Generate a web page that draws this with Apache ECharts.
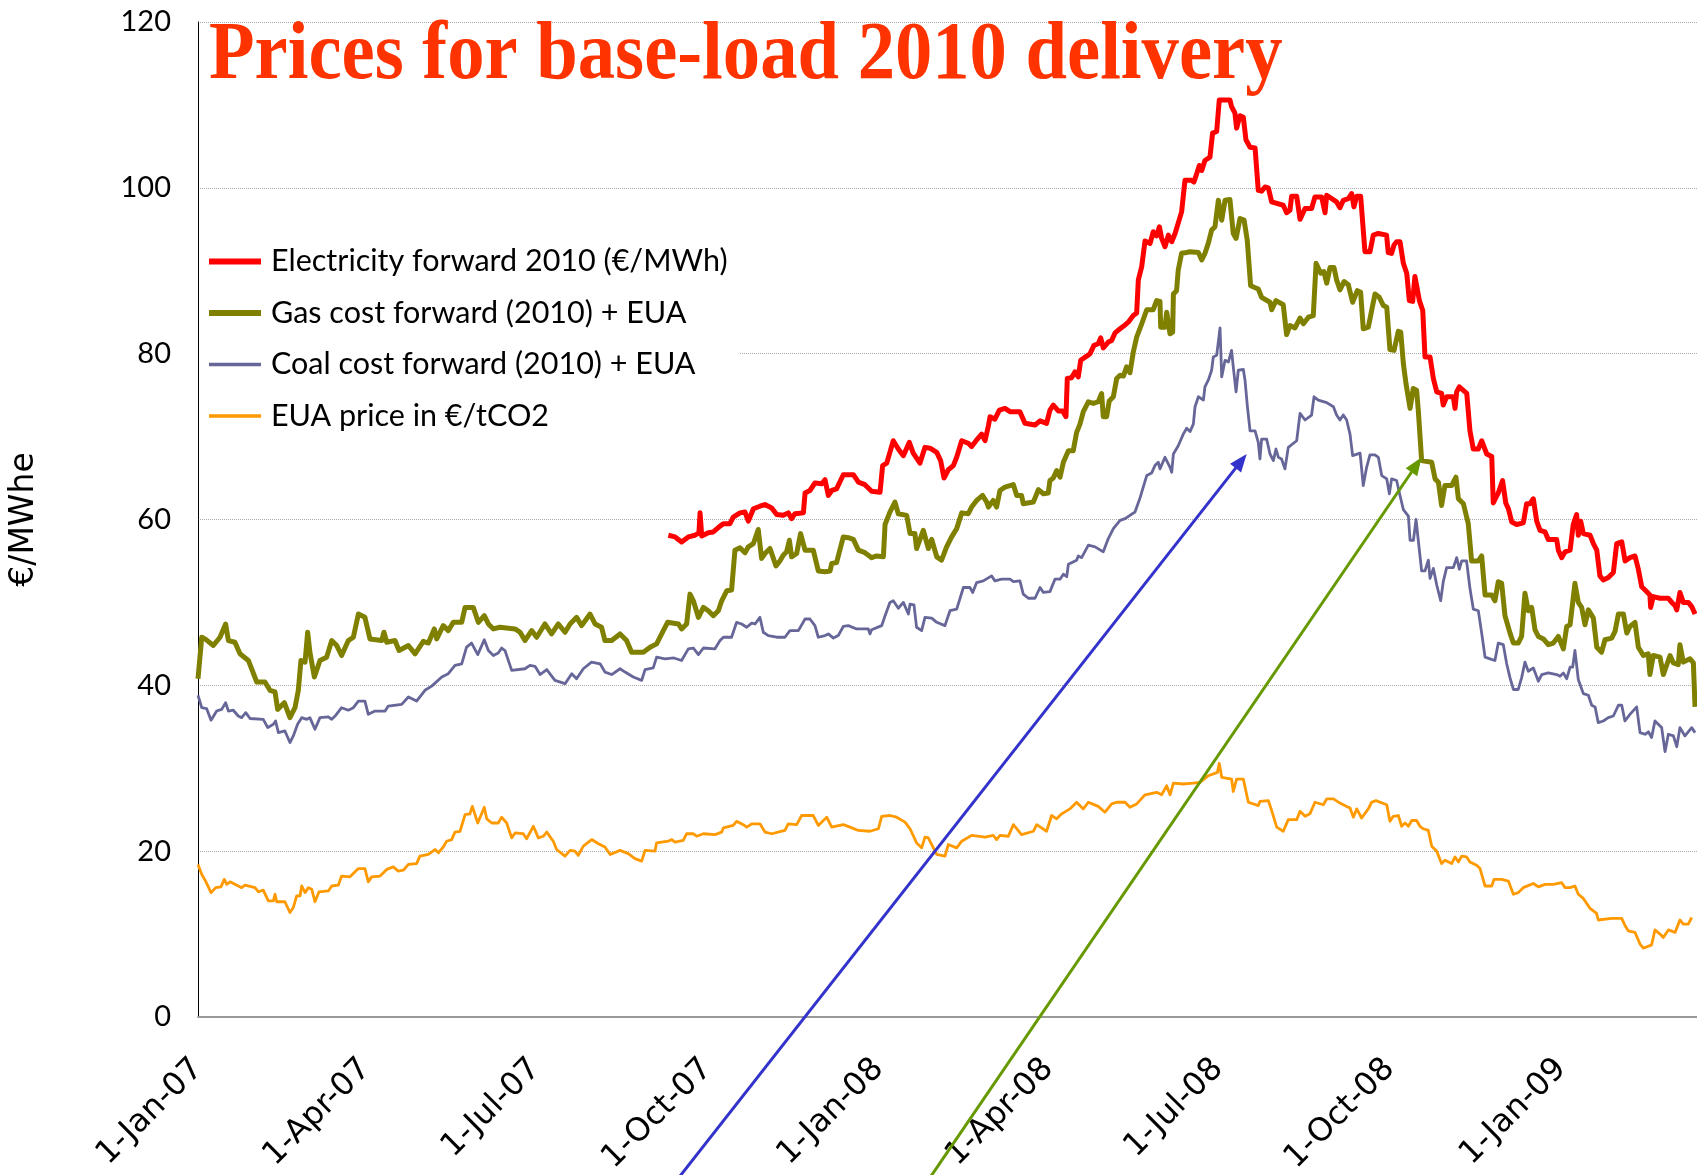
<!DOCTYPE html>
<html><head><meta charset="utf-8">
<script src="https://cdn.jsdelivr.net/npm/echarts@6/dist/echarts.min.js"></script>
<style>html,body{margin:0;padding:0;background:#fff}#c{width:1697px;height:1175px}</style>
</head><body><div id="c"></div>
<script>
// x values are days since 1-Jan-2007
const tickDays = [0, 90, 181, 273, 365, 456, 547, 639, 731];
const tickLabels = ['1-Jan-07','1-Apr-07','1-Jul-07','1-Oct-07','1-Jan-08','1-Apr-08','1-Jul-08','1-Oct-08','1-Jan-09'];
const seriesNames = ['Electricity forward 2010 (€/MWh)','Gas cost forward (2010) + EUA','Coal cost forward (2010) + EUA','EUA price in €/tCO2'];

const elecPoints = [[252.2,58.1],[255.8,57.9],[259.3,57.3],[262.9,57.9],[266.5,58.1],[268.6,58.4],[269.2,60.8],[270.1,58],[273.6,58.4],[276.3,58.5],[279.9,59.2],[281.7,59.5],[285.2,59.5],[287,60.3],[290.6,60.8],[293.3,60.9],[295.1,59.8],[297.8,61.3],[301.3,61.6],[304,61.8],[307.6,61.4],[310.3,60.6],[313.8,60.5],[316.5,60.8],[318.3,60.1],[320.1,60.7],[324.6,60.8],[325.5,63.2],[328.1,63.5],[330.8,64.4],[334.4,64.3],[336.2,64.8],[338,62.9],[339.8,63.5],[342.4,63.7],[346,65.4],[351.4,65.4],[354.1,64.5],[357.6,64.2],[361.2,63.4],[365.7,63.3],[367.1,66.5],[369.3,66.8],[372.8,69.5],[375.5,68.5],[378.2,67.7],[381.4,69.3],[383.5,68],[387.1,66.8],[389.8,68.7],[392.5,68.6],[396.1,68.1],[398.2,67.1],[400,65],[402.3,66],[405,66.5],[406.8,67.5],[409.5,69.5],[413,69.2],[414.8,68.8],[417.2,69.5],[420.2,70.3],[422,69.5],[423.8,71.3],[424.7,72.4],[427.3,72.1],[429.7,73.2],[432.7,73.4],[435.4,73],[440.7,73],[443.4,71.6],[448.8,71.4],[451.5,71.9],[455,71.6],[456.8,73.2],[458.6,73.8],[461.3,73.1],[463.6,73.1],[465.4,72.4],[466.1,77],[468.4,77.1],[470.2,77.8],[472,77.2],[473.3,79.2],[476.5,79.7],[478.3,80],[480.4,81],[482.7,81.2],[484,81.9],[485.4,80.7],[488.1,81.4],[489.9,81.6],[491.7,82.5],[494.4,83],[496.2,83.3],[498.8,83.8],[501.5,84.6],[503.3,84.9],[504.2,88.9],[506,90.5],[507.8,93.6],[510.5,93.3],[512.2,94.7],[514,94.2],[515.5,95.3],[516.7,93.9],[518.5,92.9],[520.3,94.3],[522.1,93.5],[523.9,94.5],[527.4,97.1],[529.2,100.9],[532.8,100.9],[534,100.7],[535.5,101.7],[536.9,102.7],[538.2,102.1],[539.9,103.3],[542.6,103.7],[544,106.6],[546.2,106.8],[547.6,110.6],[553.3,110.6],[554.2,109.8],[556,109],[556.9,107.2],[558.7,108.7],[560.5,108.5],[561.9,105.8],[564.1,104.9],[566.8,104.8],[568.5,99.7],[570.3,99.6],[572.1,100.1],[573.9,100],[575.7,98.3],[581.9,97.9],[583.7,97],[585.5,97.3],[586.4,99],[589.1,99],[590.9,96.2],[593.6,97.5],[597.1,97.5],[598.9,98.9],[602.5,98.9],[604.3,97],[605.2,99.1],[610.5,98.3],[612.3,97.6],[614.1,98.5],[616.8,98.7],[618.6,99.3],[619.8,97.7],[621.3,99],[623.4,99],[625.7,92.3],[628.4,92.3],[630.2,94.3],[632.9,94.5],[637.3,94.3],[638.2,92.2],[640,92.1],[641.3,93.1],[642.7,93.5],[644.5,93.5],[646.3,90.9],[648.1,89.7],[649.5,86.4],[651.3,86.3],[652.5,89.3],[653.4,89.3],[654.9,86.4],[656.7,85.2],[657.9,79.6],[660.6,79.6],[662.4,77],[664.2,75.4],[666.8,75.2],[667.7,73.8],[669.5,74.8],[673.1,74.8],[674,73.4],[674.9,75.4],[676.3,76],[680.3,75.2],[682,70.7],[683.8,68.5],[686.5,68.5],[688.3,69.5],[691,67.9],[693.7,67.6],[694.5,62],[697.2,63.2],[699.5,64.7],[701.2,62],[702.6,61.3],[704.4,59.7],[707.1,59.4],[710.6,59.6],[712.4,61.9],[714.2,61.9],[716,62.5],[717.8,59.8],[719.6,58.7],[722.3,58.5],[724,57.6],[728.5,57.6],[729.4,56.3],[731.2,55.4],[733,56.1],[735.7,56.3],[737.4,59.4],[739.2,60.6],[740.1,58.1],[741.4,59.8],[742.8,58.3],[746.4,58.1],[748.2,57.1],[750,56.3],[751.7,53.2],[753.5,52.7],[756.2,53],[758.9,53.6],[760.7,57.1],[763.4,57.3],[765.2,55],[767.8,55.4],[770.5,55.6],[772.3,54],[774.1,51.9],[775.9,51.5],[778.5,50.9],[778.9,49.4],[780.3,50.7],[783.9,50.5],[788.4,50.5],[790.2,50],[792,49.6],[792.9,49.1],[794.6,51.2],[796.4,50],[799.1,50],[800.9,49.5],[802.7,48.6]];

const gasPoints = [[0,40.8],[2,45.8],[3.8,45.6],[8.2,44.8],[11.8,45.8],[14.8,47.4],[16.3,45.4],[19.8,45.2],[22.5,43.8],[27,43],[31.5,40.4],[35.9,40.4],[38.6,39.4],[41.3,39.2],[42.7,37.1],[46.3,37.9],[49.3,36.1],[52,37.3],[53.8,39.4],[55.2,43],[57.4,42.8],[58.8,46.4],[60,44],[62.4,41],[65.4,43],[69,43.4],[71.7,45.4],[74.4,44.8],[77,43.6],[80.6,45.4],[83.3,45.8],[86,48.6],[89.5,48.2],[92.2,45.6],[98.5,45.4],[99.7,46.4],[101.2,45.2],[105.6,45.4],[107.8,44.2],[112.8,44.8],[116.4,43.8],[120.8,45.3],[123.5,45.1],[126.7,46.8],[128,45.6],[131.5,47.2],[134.2,46.6],[136.9,47.6],[141.4,47.6],[143.2,49.4],[147.6,49.4],[150.3,47.6],[153.5,48.4],[155.7,47.4],[158.4,46.8],[161.9,47],[170,46.8],[172.7,46.4],[175.3,45.4],[178.9,46.6],[181.6,45.8],[186,47.4],[189.6,46.2],[193.2,47.4],[196.8,46.4],[199.5,47.4],[203,48.2],[205.7,47.2],[210.2,48.6],[212.9,47.4],[216.4,47],[218.2,45.4],[221.8,45.4],[226.3,46.2],[229.8,45.4],[232.5,44],[238.8,44],[242.4,44.6],[245.9,45],[249.5,46.6],[251.8,47.6],[257.6,47.4],[259.3,46.8],[262,47.4],[263.8,51],[265.6,50.2],[268.3,48.2],[271,49.4],[273.6,49],[276.3,48.4],[279,49],[280.8,50.2],[283.5,51.4],[286.1,51.5],[287.9,56.3],[290.6,56.6],[293.3,56],[295.1,56.7],[297.8,57.1],[300.4,58.8],[302.2,55.3],[304,55.9],[306.7,56.5],[309.9,54.4],[312,55],[313.8,55.7],[315.6,56.1],[317.1,57.5],[318.3,55.5],[321,55.9],[323.1,58.3],[325.5,56.3],[329.9,56.3],[332.6,53.8],[336.2,53.7],[338.9,53.8],[339.8,54.7],[342.4,54.8],[346,57.9],[348.7,57.8],[351.4,57.6],[354.1,56.3],[357.6,56],[361.2,55.4],[363.9,55.6],[367.5,55.5],[368.4,59.4],[371,60.9],[373.7,62.1],[375.5,60.7],[380,60.5],[381.8,58.3],[384.4,58.3],[385.3,56.5],[388.9,58.7],[391.6,56.5],[393.4,57.6],[396.1,55.5],[398.7,55.1],[401.4,56.7],[404.1,57.9],[406.8,58.9],[409.5,60.8],[413,60.7],[414.8,61.5],[417.5,62.3],[420.7,62.9],[422.9,62.1],[423.8,61.5],[426.4,62.3],[428.2,61.5],[430,63.5],[432.7,63.9],[437.2,64.2],[439,62.9],[441.6,62.9],[442.5,61.9],[447.9,62.1],[450.6,63.6],[453.3,63.1],[455.9,63.2],[456.8,64.7],[458.6,65],[460.4,65.9],[462.2,65.1],[464,66.9],[466.7,68.3],[469.3,68.3],[471.1,70.5],[472.9,71.5],[474.7,73],[477.4,74.2],[480.1,74],[482.7,74.2],[484.5,75.2],[485.4,72.4],[487.2,72.4],[488.6,74.3],[490.8,74.8],[492.6,77],[494.4,77.4],[496.2,77.3],[497.9,78.4],[499.7,77.7],[501.5,80.2],[503.3,82],[506,83.6],[508.7,85.3],[512.2,85.3],[514,86.4],[515.8,86.3],[516.2,83.2],[518.5,83.2],[519.4,85],[521.2,82.4],[522.6,82.6],[523,87.2],[524.7,87.6],[525.6,90.1],[527.4,92.1],[530.1,92.2],[531.9,92.3],[536.4,92.2],[538.2,91.3],[539.9,92.1],[541.7,93.3],[543.5,94.9],[545.3,95.3],[547.1,98.5],[548.9,96.1],[550.7,98.5],[553.3,98.6],[555.1,94.5],[556.6,93.9],[558.7,96.3],[560.9,96.1],[562.6,93.7],[564.4,88.2],[568.5,87.8],[570.3,86.8],[574.8,86.2],[575.7,85.3],[578,86.4],[581.9,85.9],[583.7,82.3],[585.5,83.4],[588.2,83.1],[590.9,84.3],[592.7,83.6],[595.4,84.4],[598,84.6],[599.5,90.9],[602,89.7],[603.7,89.9],[605.2,88.5],[607,90.4],[609.1,90.4],[610.5,88.9],[612.3,87.7],[614.5,88.7],[616.8,88.3],[619.1,86.2],[621.6,87.6],[623.4,87.4],[624.8,83],[627.5,83.2],[629.3,85.2],[631.1,87.2],[633.4,86.8],[635.6,85.8],[637.4,85.6],[639.1,80.5],[641.3,80.4],[643.6,82.7],[644.9,82.6],[646.3,78.8],[647.7,76.4],[649.9,73.4],[651.6,75.8],[653.4,75.6],[654.3,73.2],[656.1,67.1],[661.5,66.9],[663.3,64.9],[665.1,64.5],[666.8,61.7],[668.6,64.1],[672.2,64.1],[674.5,65.1],[675.8,62.5],[678.5,61.9],[681.1,59.5],[682.9,55],[686.5,55],[688.3,55.6],[690.1,50.9],[693.7,50.9],[695.4,50.2],[697.2,52.5],[699,52.3],[700.8,48.4],[703.5,46.3],[705.3,45.1],[707.9,45.1],[709.7,45.9],[711.5,51.1],[713.3,49],[715.1,49.4],[716.9,46.7],[718.7,45.9],[721.4,45.6],[724,44.9],[726.7,45.1],[729.4,45.9],[732.1,44.4],[733.9,47.1],[735.7,47.3],[738.3,52.3],[740.1,50],[741.9,49.4],[743.7,47.3],[745.5,49.1],[748.2,48.1],[750,44.6],[752.6,44],[754.4,45.5],[758,45.7],[759.8,46.5],[761.6,48.6],[764.3,48.6],[766.1,46.3],[767.8,47.1],[770.5,47.6],[772.3,44.6],[775,43.6],[777.6,43.8],[778.5,41.3],[780.3,43.6],[783.9,43.4],[785.7,41.3],[789.3,43.6],[791.1,42.7],[793.7,42.5],[794.6,44.9],[796.4,42.8],[800,43.2],[801.8,42.7],[802.7,37.4]];

const coalPoints = [[0,38.8],[2,37.3],[4.6,37.2],[7,35.8],[10,36.9],[12.7,37.1],[14.8,37.9],[16.3,36.9],[18.9,37],[21.6,36.3],[23.4,36.1],[25.6,36.7],[27.9,36],[35,35.9],[37.4,34.9],[40.4,35.3],[41.6,35.7],[43.1,34.3],[46.6,34.5],[49.3,33.1],[51.1,33.9],[53.4,35.3],[55.6,36.1],[58.3,35.9],[60,36.1],[62.7,34.7],[65.4,36.1],[69.9,36.2],[71.7,35.9],[73.5,36.3],[77,37.3],[80.6,37],[83.3,37.3],[86,38.1],[89.5,38.1],[91.3,36.5],[94.9,36.9],[100.3,36.9],[102,37.5],[109.2,37.7],[112.8,38.6],[117.2,38.1],[121.7,39.4],[125.3,39.9],[130.7,41],[134.2,41.4],[137.8,42.4],[141.4,42.6],[144,44.6],[146.7,45.1],[147.6,45.3],[150,43.7],[153.5,45.5],[155.7,44.2],[158.4,43.6],[161,43.9],[162.8,44.5],[164.6,44.2],[168.2,41.8],[175.3,42],[178,42.4],[180.7,42.3],[183.4,41.3],[187,41.9],[191.4,40.6],[196.8,40.2],[200.4,41.4],[203,40.8],[206.6,42],[211,42.8],[215.6,42.6],[218.2,41.6],[221.8,41.3],[226.3,42],[229,41.6],[233.4,41],[237.9,40.6],[239.7,41.9],[244.1,42.1],[245.9,43.4],[250.4,43.2],[255.2,43.3],[259.3,43],[262.9,44.4],[265.6,44.5],[268.3,43.7],[271,44.5],[277.2,44.4],[279.9,45.4],[281.7,45.8],[286.1,45.8],[288.8,47.6],[291.5,47.4],[294.2,47],[296.9,47.5],[298.7,47.4],[301.3,48.2],[303.1,46.4],[305.8,46],[310.3,45.8],[314.7,45.8],[317.4,46.6],[321.9,46.6],[325.5,48],[328.1,48],[330.8,47.2],[332.6,45.8],[336.2,46],[338,46.2],[340.7,45.7],[343.3,46],[346,47.1],[348.7,47.2],[353.2,46.8],[359.4,46.8],[360.3,46.2],[361.2,46.7],[366.6,47.2],[368.4,48.4],[371,50],[372.8,50.2],[375.5,49.3],[378.2,50],[380.9,48.6],[381.8,49.8],[383.9,49.7],[385.3,47],[388,46.6],[389.8,48.2],[393.4,48.1],[396.1,47.6],[400.5,47.2],[403.2,49],[406.8,49.2],[410.4,51.8],[413.9,51.8],[415.4,51.2],[417.5,52.4],[421.1,52.6],[425.5,53.2],[427.3,52.6],[430.9,52.8],[435.4,52.8],[437.2,52.5],[440.7,52.6],[442.5,51],[445.2,50.5],[448.8,50.5],[451.5,51.8],[453.3,51.2],[456.8,51.3],[459.5,52.8],[462.2,52.8],[464,53.4],[465.8,53.1],[466.7,54.6],[471.1,55.1],[472,55.6],[473.8,55.4],[477.4,56.9],[481,56.7],[485.4,56.1],[488.1,57.7],[490.8,58.9],[494.4,59.9],[497.1,60.1],[499.7,60.5],[502.4,60.9],[505.1,62.6],[508.7,65.3],[511.3,65.6],[513.1,66.5],[514.9,66.9],[515.8,66.1],[518.5,67.5],[521.2,66.3],[522.1,65.7],[523,67.9],[525.6,68.9],[528.3,70.3],[530.1,71],[531.9,70.6],[533.7,71.5],[534.6,73.6],[536.4,74.8],[539.1,74.4],[539.9,76],[541.7,76.8],[543.5,78],[544.4,79.6],[546.2,79.8],[548,83.1],[548.9,77.2],[550.7,79.2],[552.5,79],[554.2,80.4],[555.1,78.4],[556.6,75.4],[557.8,78],[560.5,78.1],[561.4,76.8],[562.6,73.8],[564.1,70.7],[566.8,70.7],[568.5,69.3],[569.4,67.3],[570.3,69.7],[573,69.7],[574.8,67.9],[576.6,67.1],[578,68.5],[579.3,67.5],[581,67.3],[582.8,66.1],[584.6,68.7],[589.1,69.5],[590.9,72.8],[593.6,72],[597.1,72.6],[598.4,74.8],[600.7,74.4],[605.2,74.1],[608.8,73.6],[610.5,72.6],[612.3,72],[614.1,72.6],[615.9,72],[617.7,70.3],[619.1,67.7],[623.1,68],[624.8,64.1],[626.6,66.3],[628.4,67.8],[631.1,67.8],[632.9,67.5],[634.7,65.3],[637.4,64.9],[638.8,63.1],[640,64.9],[642.7,64.7],[644.5,62.9],[646.3,61.2],[649,60.4],[649.9,57.5],[651.7,57.5],[653.1,60],[654.3,57.5],[656.1,53.8],[657.9,53.8],[659.7,55.1],[660.6,52.9],[662.4,54.1],[664.2,52.1],[666.3,50.2],[667.7,52.5],[669.5,54.2],[673.1,54.2],[674.9,55.4],[676.3,54],[677.6,55],[680.2,55],[682,51.7],[683.8,49.2],[686.5,49],[688.3,46.3],[690.1,43.4],[692.8,43.2],[695.4,43],[697.2,45.1],[699.9,44.9],[701.7,42.6],[703.5,40.9],[705.3,39.5],[707.9,39.5],[709.7,40.9],[711.5,42.8],[713.3,41.7],[716,42.1],[718.7,40.5],[720.5,41.3],[724,41.5],[728.5,41.3],[730.3,41.1],[732.1,41.5],[733.9,40.8],[735.7,42.2],[737.1,42.2],[738.3,44.2],[740.1,40.7],[742.8,39],[745.5,38.8],[747.3,37.6],[749.1,37.4],[750.8,35.5],[753.5,35.7],[756.2,36.1],[758.9,36.3],[761.6,37.6],[763.4,37.6],[765.1,35.7],[767.8,36.5],[771.4,37.4],[773.2,34.3],[775.9,34.1],[777.7,34.4],[779.4,33.7],[781.2,35.7],[784.8,34.9],[786.6,32],[788.4,34.1],[791.1,33.9],[792.9,32.6],[794.6,34.9],[797.3,33.9],[800.9,34.9],[802.7,34.3]];

const euaPoints = [[0,18.4],[2,17.2],[3.8,16.5],[7,15],[9.5,15.6],[12.3,15.7],[14.1,16.6],[15.4,16],[17.2,16.3],[23.4,15.6],[25.2,15.9],[30.6,15.6],[32.4,15.1],[35,15.3],[37.7,14],[40.4,14],[41.3,14.8],[42.2,13.9],[46.6,13.9],[49.3,12.6],[51.1,13.2],[52.9,14.6],[54.7,14.6],[55.6,15.8],[57.4,15],[59.2,15.6],[61,15.4],[62.7,13.9],[64.9,15.1],[69.9,15.2],[71.7,15.8],[75.2,15.9],[77,17],[81.5,16.9],[86,17.9],[89.5,17.9],[91.3,16.3],[93.1,16.9],[97.6,17],[101.2,17.8],[104.7,18.1],[107.4,17.6],[110.1,17.7],[112.8,18.4],[117.2,18.5],[119,19.4],[123.5,19.6],[127.1,20.2],[128.9,19.8],[131.5,20.5],[133.3,21.2],[136,21.4],[137.8,22.3],[140.5,22.4],[143.2,24.4],[145.8,24.5],[147.1,25.4],[150,23.4],[153.5,25.3],[154.8,23.9],[157.5,23.4],[161,23.4],[162.8,24.1],[165.5,23.4],[168.2,21.6],[170,22.2],[174.4,22.1],[176.2,21.5],[179.8,23],[182.5,21.6],[185.2,21.8],[187,22.3],[190.5,21.2],[192.3,20.2],[196.8,19.4],[199.5,20.1],[202.1,20],[203.9,19.5],[206.6,20.6],[211.1,21.4],[214.7,20.9],[218.2,20.5],[221,19.6],[226.3,20.1],[230.7,19.7],[234.3,19.1],[237.9,18.8],[239.7,20.1],[245,20],[245.9,21],[252.2,21.2],[254,21.4],[255.8,21.1],[260.2,21.3],[262,22.1],[265.6,22.1],[267.4,21.8],[271,22.1],[277.2,22],[280.8,22.3],[281.7,22.8],[287,23.1],[288.8,23.6],[292.4,23.2],[294.2,22.9],[296.9,23.3],[301.3,23.3],[304,22.3],[307.6,22.1],[314.7,22.5],[316.5,23.3],[321,23.2],[323.7,24.3],[329.9,24.3],[332.6,23.1],[337.1,24.1],[339.8,22.9],[346,23.2],[349.6,22.9],[354.1,22.5],[360.3,22.4],[364.8,22.7],[366.6,24.2],[371,24.3],[374.6,24.1],[379.1,23.5],[381.8,22.7],[385.3,21],[388,20.4],[389.8,21.7],[391.6,21.6],[393.4,20.8],[396.1,19.6],[400.5,19.4],[402.3,20.8],[406.8,20.4],[409.5,21.2],[414.8,21.9],[422,21.7],[426.4,21.9],[428.2,21.4],[430,21.9],[434.5,21.8],[437.2,23.2],[441.6,22],[447.9,22.4],[449.7,23.2],[455,22.4],[457.7,24.3],[460.4,23.9],[463.1,24.5],[467.5,25.1],[471.1,25.9],[474.7,25.1],[477.4,25.9],[482.7,25.4],[486.3,24.7],[489.9,25.7],[492.6,25.9],[497.1,25.9],[499.7,25.3],[503.3,25.7],[507.8,26.8],[514,27.1],[516.7,26.8],[519.4,27.9],[521.2,26.8],[523,28.2],[528.3,28.1],[533.7,28.2],[537.3,28.3],[541.7,29.1],[546.6,29.5],[547.6,30.6],[548.9,28.9],[554.2,28.7],[555.1,27.2],[556.9,28.7],[560.5,28.7],[562.3,26.8],[563.2,25.9],[568.5,25.5],[569.4,26],[573.9,26.1],[575.7,24.9],[578.4,22.9],[581.9,22.4],[584.6,23.8],[589.1,23.8],[590.9,24.8],[593.6,24.2],[596.2,24.5],[598.9,25.9],[603.4,25.6],[605.2,26.3],[608.8,26.3],[612.3,25.8],[615.9,25.4],[617.7,25.2],[619.5,24.1],[621.3,25.1],[623.9,24],[627.5,25.1],[629.3,25.9],[631.6,26.1],[637.4,25.6],[639.1,23.6],[640.9,24.2],[643.6,24.3],[645.4,23],[647.2,23.4],[649,23],[650.8,23.7],[653.4,23.7],[655.2,23],[657,22.7],[659.7,22.5],[661.5,20.6],[664.2,20],[666.8,18.5],[668.6,18.9],[672.2,18.5],[674,19.3],[675.8,18.7],[677.6,19.4],[680.2,19.3],[682,18.7],[685.6,18.3],[687.4,17.9],[690.1,15.8],[693.7,15.8],[694.9,16.6],[699,16.6],[702.6,16.4],[705.3,14.8],[707.9,15],[710.6,15.6],[716,16.1],[718.7,15.7],[722.3,16],[726.7,16],[731.2,16.2],[733,15.6],[735.7,15.6],[738.3,15.8],[740.1,14.8],[742.8,14.3],[746.4,13.1],[749.9,12.5],[750.8,11.7],[758,11.9],[763.4,11.9],[765.2,11],[766.9,10.4],[770.5,10.2],[773.2,8.8],[775,8.3],[779.4,8.7],[781.2,10.5],[783.9,10],[785.7,9.6],[788.4,10.5],[792,10.2],[794.6,11.7],[796.4,11.2],[799.1,11.2],[800.9,12]];

// annotation arrows, in data coordinates (day, value)
const arrowStarts = [[258.4, -19.2], [393, -19.2]];
const arrowEnds = [[562.3, 67.9], [656.1, 67.5]];

const titleText = 'Prices for base-load 2010 delivery';
const yAxisName = '€/MWhe';

const colors = ['#FF0000', '#808000', '#666699', '#FF9900'];
const widths = [5, 5, 2.8, 2.8];
const legendWidths = [6, 6, 3.5, 3.5];
const arrowColors = ['#3333CC', '#669900'];

const chart = echarts.init(document.getElementById('c'), null, {renderer: 'canvas'});
const allPoints = [elecPoints, gasPoints, coalPoints, euaPoints];

chart.setOption({
  animation: false,
  backgroundColor: '#fff',
  grid: {left: 198, right: 0, top: 22, bottom: 158, containLabel: false, outerBoundsMode: 'none'},
  legend: {
    orient: 'vertical', left: 199, top: 238,
    backgroundColor: '#fff', padding: [8, 12, 8, 7],
    itemWidth: 52, itemHeight: 30, itemGap: 20.5,
    itemStyle: {color: 'rgba(0,0,0,0)', borderWidth: 0, opacity: 0},
    textStyle: {fontFamily: 'Lato', fontSize: 30.5, color: '#000', padding: [0, 0, 0, 5]},
    data: seriesNames.map((n, i) => ({name: n, lineStyle: {color: colors[i], width: legendWidths[i]}}))
  },
  xAxis: {
    type: 'value', min: 0, max: 803.75,
    axisLine: {show: true, onZero: false, lineStyle: {color: '#999', width: 2}},
    axisTick: {show: false},
    splitLine: {show: false},
    axisLabel: {
      customValues: tickDays,
      formatter: function (v) { const i = tickDays.indexOf(Math.round(v)); return i >= 0 ? tickLabels[i] : ''; },
      rotate: 45, fontFamily: 'DejaVu Sans', fontSize: 32, color: '#000', margin: 47
    }
  },
  yAxis: {
    type: 'value', min: 0, max: 120, interval: 20,
    axisLine: {show: true, lineStyle: {color: '#000', width: 1}},
    axisTick: {show: false},
    axisLabel: {fontFamily: 'Lato', fontSize: 29, color: '#000', margin: 27},
    splitLine: {show: true, lineStyle: {type: 'dotted', color: '#aaa', width: 1}},
    name: yAxisName, nameLocation: 'middle', nameGap: 157, nameRotate: 90,
    nameTextStyle: {fontFamily: 'DejaVu Sans', fontSize: 33, color: '#000'}
  },
  series: seriesNames.map((n, i) => ({
    name: n, type: 'line', data: allPoints[i], showSymbol: false, symbol: 'none',
    lineStyle: {color: colors[i], width: widths[i], join: 'round'},
    itemStyle: {color: colors[i]}, z: 10 - i
  }))
});

const graphics = [{
  type: 'text', x: 209, y: 57, scaleX: 0.91, z: 100,
  style: {text: titleText, x: 0, y: 0, align: 'left', verticalAlign: 'middle',
          font: 'bold 82px "Liberation Serif", "Times New Roman", serif', fill: '#FF3300'}
}];
arrowStarts.forEach((s, i) => {
  const p0 = chart.convertToPixel({gridIndex: 0}, s);
  const p1 = chart.convertToPixel({gridIndex: 0}, arrowEnds[i]);
  const dx = p1[0] - p0[0], dy = p1[1] - p0[1];
  const len = Math.sqrt(dx * dx + dy * dy);
  const ux = dx / len, uy = dy / len, nx = -uy, ny = ux;
  const L = 18, W = 7;
  const bx = p1[0] - ux * L, by = p1[1] - uy * L;
  graphics.push({type: 'line', z: 90, shape: {x1: p0[0], y1: p0[1], x2: bx + ux * 2, y2: by + uy * 2},
    style: {stroke: arrowColors[i], lineWidth: 3}});
  graphics.push({type: 'polygon', z: 90, shape: {points: [[p1[0], p1[1]], [bx + nx * W, by + ny * W], [bx - nx * W, by - ny * W]]},
    style: {fill: arrowColors[i]}});
});
chart.setOption({graphic: graphics});
</script>
</body></html>
